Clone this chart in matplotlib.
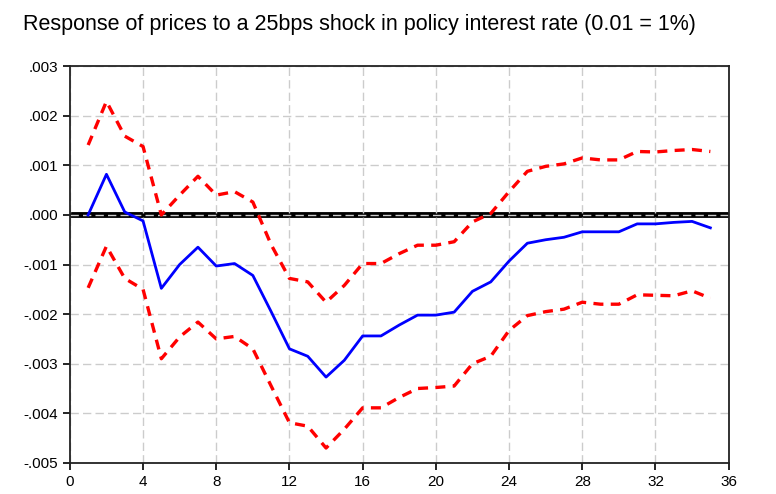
import matplotlib.pyplot as plt
from matplotlib.ticker import FuncFormatter

# periods after the shock
periods = list(range(1, 36))

response = [0.0, 0.00082, 0.00006, -0.00012, -0.00148, -0.00100, -0.00065, -0.00103, -0.00098, -0.00122,
            -0.00195, -0.00270, -0.00285, -0.00327, -0.00293, -0.00244, -0.00244, -0.00222, -0.00202, -0.00202,
            -0.00196, -0.00154, -0.00135, -0.00093, -0.00057, -0.00050, -0.00045, -0.00034, -0.00034, -0.00034,
            -0.00018, -0.00018, -0.00015, -0.00013, -0.00026]

upper = [0.00141, 0.00229, 0.00159, 0.00138, 0.0, 0.00040, 0.00078, 0.00040, 0.00047, 0.00026,
         -0.00060, -0.00128, -0.00135, -0.00176, -0.00142, -0.00098, -0.00098, -0.00078, -0.00061, -0.00061,
         -0.00054, -0.00014, 0.00003, 0.00047, 0.00088, 0.00098, 0.00103, 0.00115, 0.00111, 0.00111,
         0.00128, 0.00127, 0.00130, 0.00132, 0.00128]

lower = [-0.00147, -0.00063, -0.00128, -0.00150, -0.00290, -0.00246, -0.00216, -0.00250, -0.00245, -0.00270,
         -0.00345, -0.00419, -0.00426, -0.00470, -0.00432, -0.00389, -0.00389, -0.00368, -0.00350, -0.00348,
         -0.00345, -0.00300, -0.00285, -0.00233, -0.00203, -0.00195, -0.00190, -0.00176, -0.00180, -0.00180,
         -0.00161, -0.00162, -0.00163, -0.00153, -0.00168]

title = 'Response of prices to a 25bps shock in policy interest rate (0.01 = 1%)'


def fmt(v, pos):
    s = '%.3f' % v
    if s == '-0.000':
        s = '0.000'
    return s.replace('0.', '.', 1)


plt.rcParams['font.family'] = ['Liberation Sans', 'DejaVu Sans']

fig = plt.figure(figsize=(7.76, 4.94), dpi=100)
ax = fig.add_axes([0.090, 0.063, 0.849, 0.803])

ax.axhline(0, color='black', lw=4.2, zorder=1)
ax.grid(True, color='#cccccc', ls=(0, (6, 3)), lw=1, zorder=2)
ax.set_axisbelow(False)

ax.plot(periods, upper, color='red', lw=2.4, ls=(0, (3, 2.2)), zorder=3)
ax.plot(periods, lower, color='red', lw=2.4, ls=(0, (3, 2.2)), zorder=3)
ax.plot(periods, response, color='blue', lw=2, zorder=4)

ax.set_xlim(0, 36)
ax.set_ylim(-0.005, 0.003)
ax.set_xticks(range(0, 37, 4))
ax.set_yticks([0.003, 0.002, 0.001, 0.0, -0.001, -0.002, -0.003, -0.004, -0.005])
ax.yaxis.set_major_formatter(FuncFormatter(fmt))
ax.tick_params(direction='out', length=5, width=1.2, labelsize=11, colors='black')

for sp in ax.spines.values():
    sp.set_linewidth(1.3)
    sp.set_color('#222222')
    sp.set_zorder(10)

fig.text(0.030, 0.94, title, fontsize=15.5)

fig.savefig('out.png', dpi=100)
